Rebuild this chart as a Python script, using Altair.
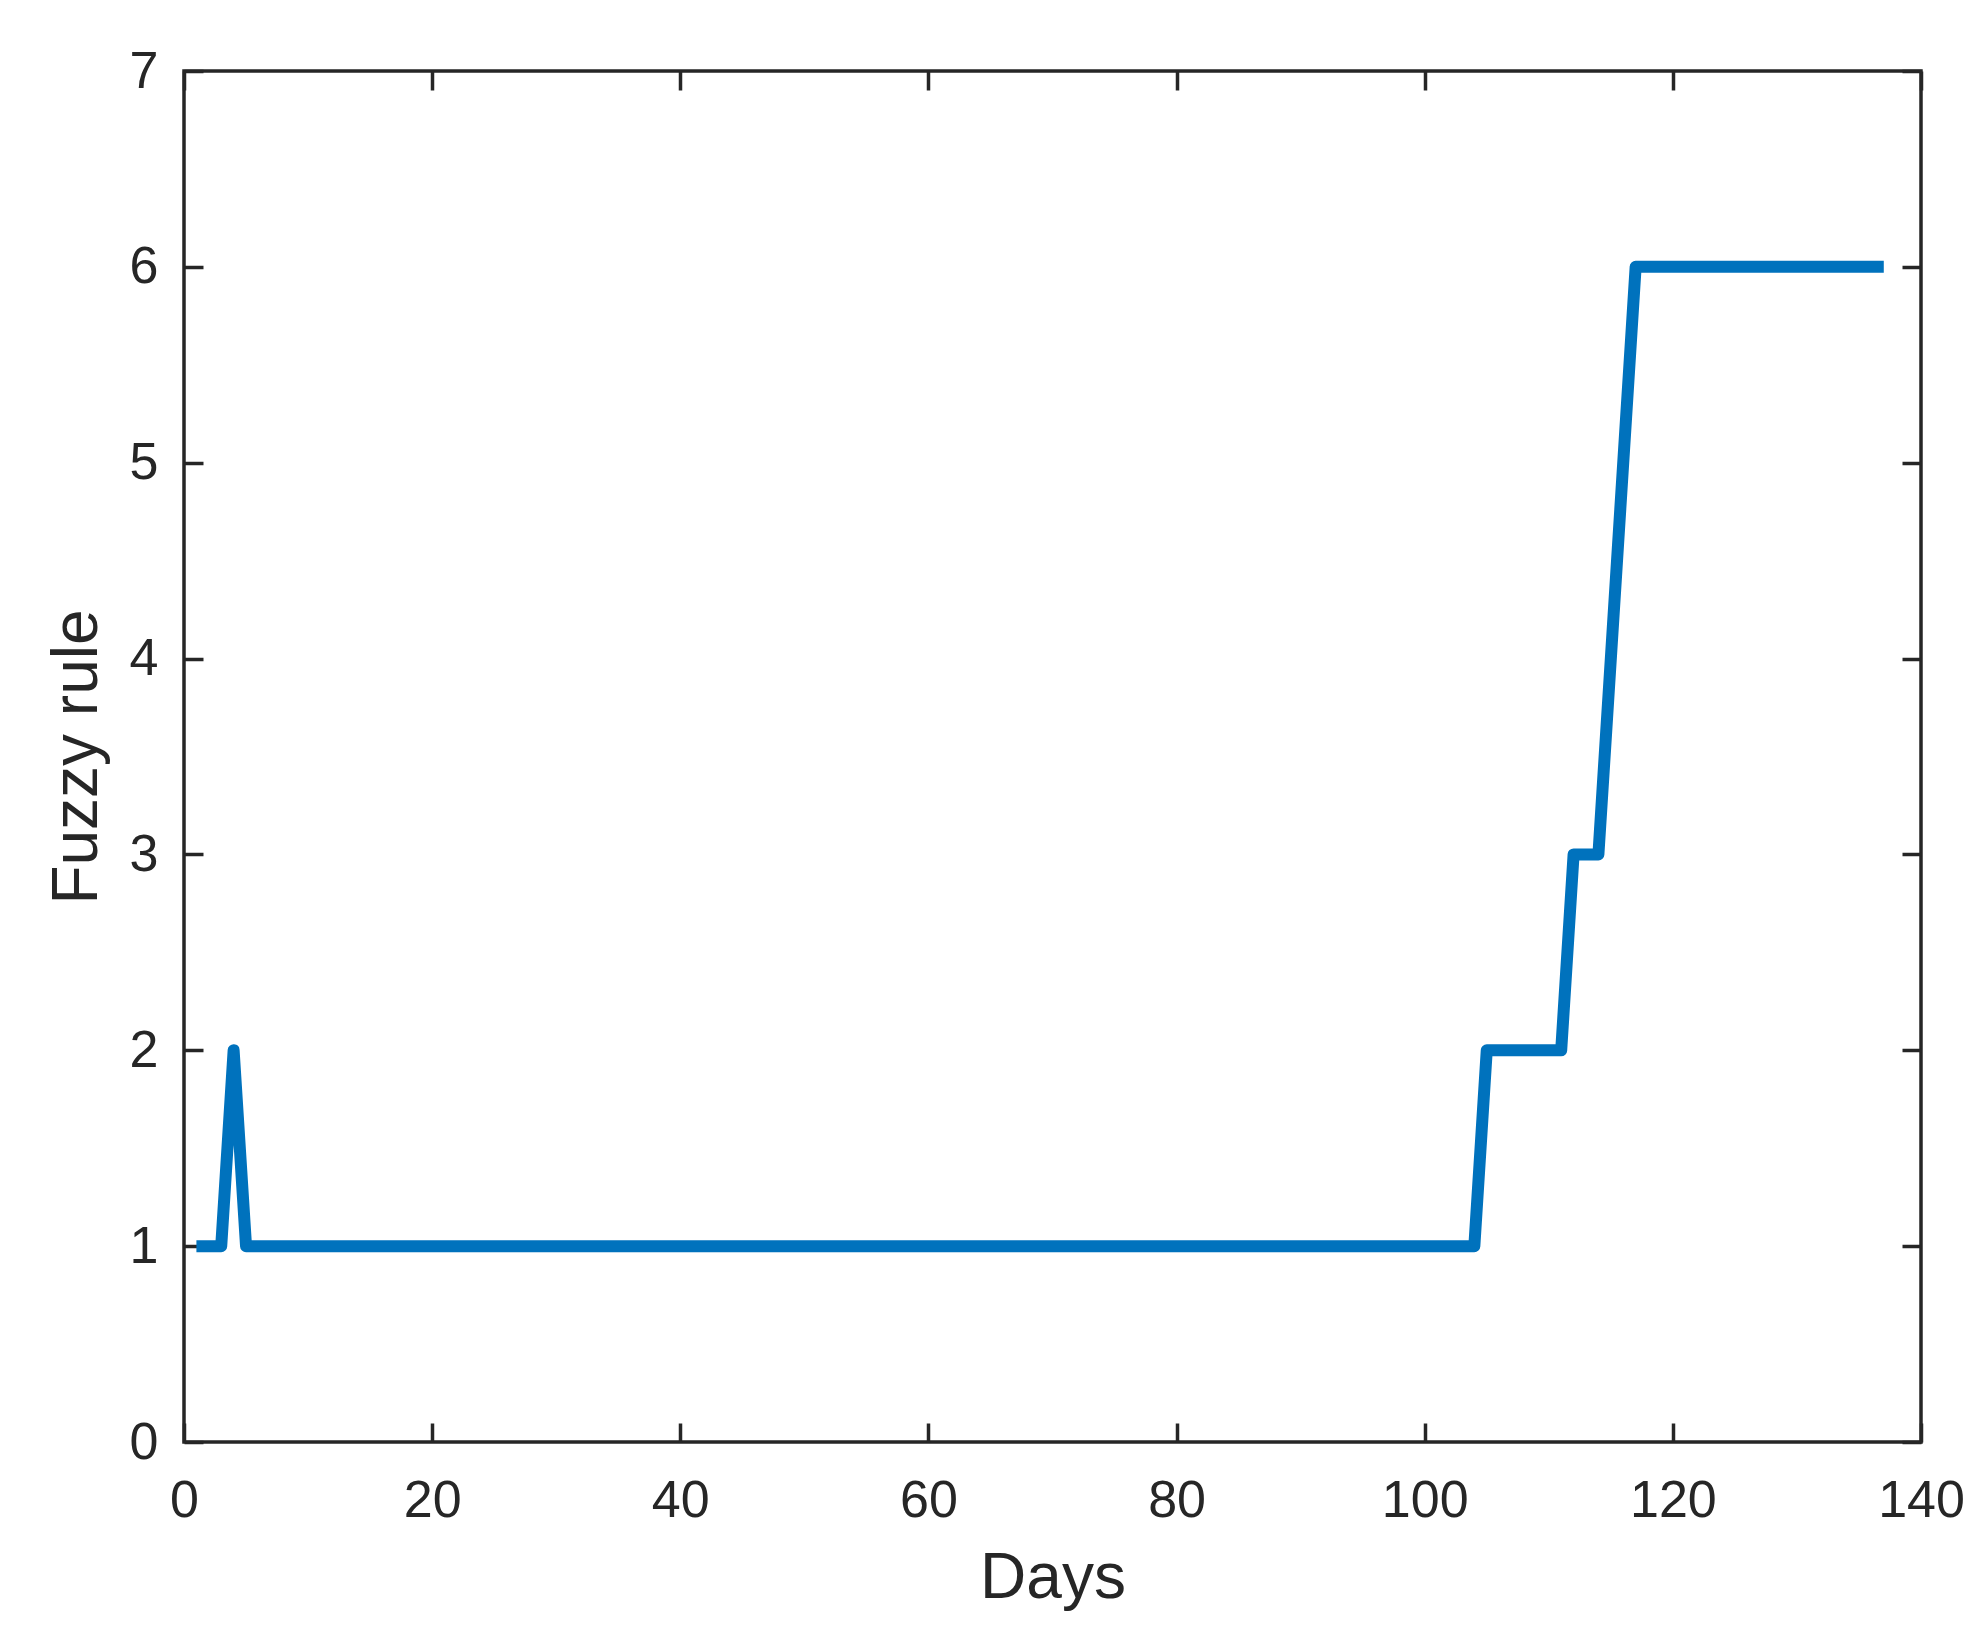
import altair as alt
import pandas as pd

days = list(range(1, 138))
fuzzy_rule = [
    1, 1, 1, 2, 1, 1, 1, 1, 1, 1, 1, 1, 1, 1, 1, 1, 1, 1, 1, 1,
    1, 1, 1, 1, 1, 1, 1, 1, 1, 1, 1, 1, 1, 1, 1, 1, 1, 1, 1, 1,
    1, 1, 1, 1, 1, 1, 1, 1, 1, 1, 1, 1, 1, 1, 1, 1, 1, 1, 1, 1,
    1, 1, 1, 1, 1, 1, 1, 1, 1, 1, 1, 1, 1, 1, 1, 1, 1, 1, 1, 1,
    1, 1, 1, 1, 1, 1, 1, 1, 1, 1, 1, 1, 1, 1, 1, 1, 1, 1, 1, 1,
    1, 1, 1, 1, 2, 2, 2, 2, 2, 2, 2, 3, 3, 3, 4, 5, 6, 6, 6, 6,
    6, 6, 6, 6, 6, 6, 6, 6, 6, 6, 6, 6, 6, 6, 6, 6, 6,
]
x_ticks = [0, 20, 40, 60, 80, 100, 120, 140]
y_ticks = [0, 1, 2, 3, 4, 5, 6, 7]

df = pd.DataFrame({"Days": days, "Fuzzy rule": fuzzy_rule})

INK = "#262626"
FONT = "Liberation Sans"
TICK = 19

xscale = alt.Scale(domain=[0, 140], nice=False, zero=False)
yscale = alt.Scale(domain=[0, 7], nice=False)

common_axis = dict(
    grid=False, domain=False, tickColor=INK, tickWidth=3.5, tickSize=TICK,
    offset=-TICK, labelFont=FONT, labelColor=INK, titleFont=FONT,
    titleColor=INK, titleFontWeight="normal", labelFlush=False,
)

main = alt.Chart(df).mark_line(
    color="#0072BD", strokeWidth=12, strokeCap="butt", strokeJoin="round"
).encode(
    x=alt.X("Days:Q", scale=xscale,
            axis=alt.Axis(orient="bottom", values=x_ticks, labelFontSize=52,
                          labelPadding=33, title="Days", titleFontSize=64,
                          titlePadding=20, **common_axis)),
    y=alt.Y("Fuzzy rule:Q", scale=yscale,
            axis=alt.Axis(orient="left", values=y_ticks, labelFontSize=52,
                          labelPadding=26, title="Fuzzy rule", titleFontSize=64,
                          titlePadding=20, **common_axis)),
)

mirror = alt.Chart(df).mark_line(opacity=0).encode(
    x=alt.X("Days:Q", scale=xscale,
            axis=alt.Axis(orient="top", values=x_ticks, labels=False, title="",
                          **common_axis)),
    y=alt.Y("Fuzzy rule:Q", scale=yscale,
            axis=alt.Axis(orient="right", values=y_ticks, labels=False, title="",
                          **common_axis)),
)

chart = alt.layer(main, mirror).resolve_axis(
    x="independent", y="independent"
).properties(
    width=1737, height=1371,
    autosize=alt.AutoSizeParams(type="none"),
    padding={"left": 176, "top": 63, "right": 57, "bottom": 190},
    background="white",
).configure_view(
    stroke=INK, strokeWidth=3.5
)

chart.save("out.html", embed_options={"renderer": "svg", "actions": False})
